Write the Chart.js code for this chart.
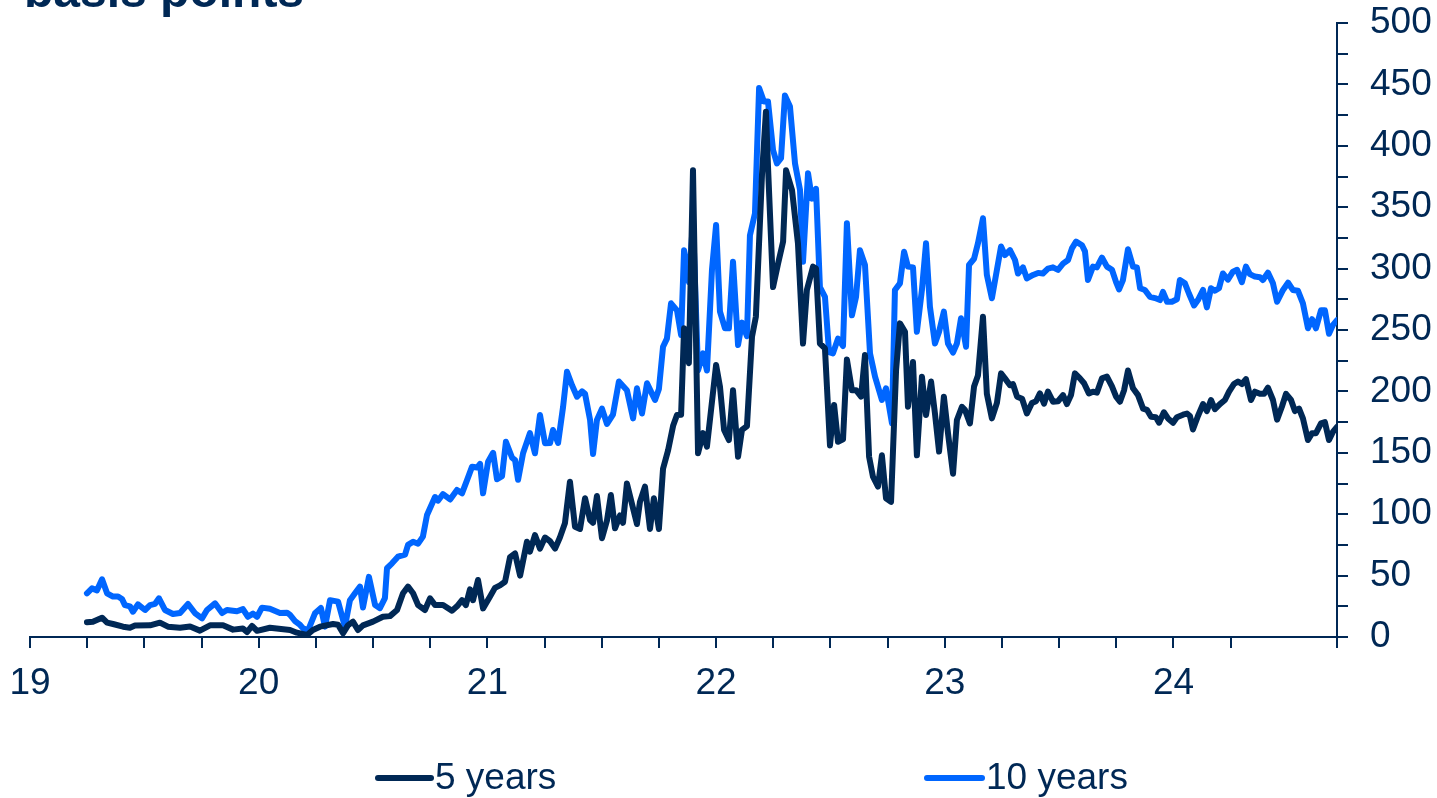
<!DOCTYPE html>
<html>
<head>
<meta charset="utf-8">
<script src="https://cdn.jsdelivr.net/npm/chart.js@4.4.1/dist/chart.umd.min.js"></script>
<style>
  html, body { margin: 0; padding: 0; background: #ffffff; overflow: hidden; }
  #wrap { position: relative; width: 1437px; height: 798px; }
</style>
</head>
<body>
<div id="wrap"><canvas id="c" width="1437" height="798"></canvas></div>
<script>
// Sovereign spread vs. Bund, weekly, in basis points (x = year, two-digit)
const seriesNames = ['5 years', '10 years'];
const yearTicks = [19, 20, 21, 22, 23, 24];
const spreadTicks = [0, 50, 100, 150, 200, 250, 300, 350, 400, 450, 500];

const dates5 = [
  19.249, 19.275, 19.315, 19.337, 19.363, 19.407, 19.437, 19.459, 19.525, 19.568,
  19.603, 19.656, 19.700, 19.743, 19.787, 19.844, 19.888, 19.931, 19.949, 19.971,
  19.993, 20.049, 20.137, 20.167, 20.211, 20.237, 20.268, 20.325, 20.347, 20.369,
  20.390, 20.412, 20.434, 20.456, 20.500, 20.543, 20.574, 20.605, 20.631, 20.653,
  20.675, 20.697, 20.727, 20.749, 20.771, 20.806, 20.845, 20.867, 20.889, 20.906,
  20.924, 20.937, 20.959, 20.981, 21.011, 21.033, 21.055, 21.077, 21.099, 21.121,
  21.143, 21.173, 21.186, 21.208, 21.230, 21.252, 21.274, 21.296, 21.317, 21.339,
  21.361, 21.383, 21.405, 21.427, 21.449, 21.462, 21.479, 21.501, 21.523, 21.540,
  21.558, 21.580, 21.593, 21.610, 21.654, 21.667, 21.689, 21.711, 21.728, 21.750,
  21.768, 21.790, 21.812, 21.829, 21.847, 21.860, 21.881, 21.899, 21.921, 21.943,
  21.960, 22.000, 22.017, 22.035, 22.056, 22.074, 22.096, 22.113, 22.135, 22.157,
  22.174, 22.201, 22.218, 22.227, 22.249, 22.271, 22.293, 22.306, 22.332, 22.358,
  22.380, 22.397, 22.424, 22.437, 22.454, 22.476, 22.498, 22.516, 22.533, 22.555,
  22.572, 22.594, 22.612, 22.634, 22.651, 22.669, 22.686, 22.708, 22.725, 22.743,
  22.765, 22.787, 22.804, 22.826, 22.839, 22.861, 22.878, 22.900, 22.918, 22.940,
  22.957, 22.975, 22.996, 23.014, 23.036, 23.053, 23.075, 23.088, 23.110, 23.128,
  23.145, 23.167, 23.184, 23.206, 23.228, 23.246, 23.263, 23.285, 23.298, 23.316,
  23.338, 23.359, 23.381, 23.399, 23.416, 23.434, 23.451, 23.473, 23.495, 23.517,
  23.534, 23.552, 23.569, 23.591, 23.609, 23.630, 23.648, 23.665, 23.687, 23.709,
  23.731, 23.749, 23.766, 23.784, 23.801, 23.823, 23.845, 23.867, 23.884, 23.902,
  23.923, 23.937, 23.958, 23.976, 23.998, 24.015, 24.042, 24.059, 24.072, 24.085,
  24.107, 24.129, 24.146, 24.164, 24.181, 24.203, 24.225, 24.243, 24.264, 24.282,
  24.299, 24.317, 24.339, 24.356, 24.378, 24.396, 24.413, 24.435, 24.453, 24.474,
  24.492, 24.514, 24.531, 24.549, 24.566, 24.588, 24.606, 24.623, 24.645, 24.662,
  24.680, 24.697, 24.715
];
const spread5 = [
  12, 12.5, 15.7, 11.7, 10.6, 8.4, 7.5, 9.3, 9.5, 11.7,
  8.4, 7.5, 8.5, 5.2, 9.5, 9.5, 6, 7, 4, 9,
  5, 7.5, 5.7, 3.5, 1.6, 5.7, 8.4, 10.6, 10, 3,
  9.5, 12.5, 5.7, 9.5, 12.5, 16.5, 17, 22, 35.6, 41,
  35.6, 26, 22, 31.5, 26, 26, 21.4, 25, 30, 26,
  38.8, 30, 46.4, 23.3, 32.8, 40, 42, 45, 65, 68,
  50, 77.6, 69.5, 83, 72, 81, 78, 72, 81, 92.6,
  126.5, 89.8, 88, 113, 95.3, 93, 114.8, 80.4, 95, 115.6,
  88.5, 99, 93, 125, 92, 110, 122.4, 88, 113, 88,
  137, 152, 172, 180.8, 181, 251.4, 223, 380, 149.6, 166,
  155, 221.5, 203.8, 168.6, 160.4, 201, 146.8, 168.6, 171.8, 244.5,
  260.8, 377.6, 427.8, 383, 285, 304, 322, 380, 364, 320.6,
  239, 282.6, 301.6, 300, 239, 235, 156, 189, 159, 161,
  226, 201, 201, 195.7, 229.6, 146.8, 130.5, 122.4, 148, 113,
  110, 217.4, 255.4, 248.6, 187.5, 224, 148, 212, 180.8, 208,
  182, 151, 195.7, 166, 133, 176.7, 187.5, 185, 174, 204,
  213, 260.8, 198, 178, 190.6, 214.7, 210.6, 205, 206, 195.7,
  194, 182, 190.6, 192, 198.4, 190, 199.8, 191.6, 192, 197,
  189.7, 197, 214.7, 210.6, 206.6, 198.4, 199.8, 199, 210.6, 212,
  204, 195.7, 191.6, 201, 217, 202.5, 197, 186, 185, 179.4,
  179, 174.5, 183, 178, 174.5, 179, 181, 182, 180, 169,
  180, 189.7, 184, 193, 185.5, 189.7, 193, 199.8, 206, 208,
  206, 210, 193, 199.8, 198, 198, 203, 193, 177, 187.5,
  198, 193, 184, 186, 178, 160.4, 166, 166, 174, 175,
  160.4, 167, 171
];

const dates10 = [
  19.249, 19.271, 19.293, 19.315, 19.337, 19.363, 19.385, 19.402, 19.415, 19.437,
  19.450, 19.472, 19.503, 19.525, 19.547, 19.564, 19.590, 19.625, 19.656, 19.691,
  19.721, 19.752, 19.774, 19.809, 19.840, 19.861, 19.905, 19.931, 19.953, 19.975,
  19.993, 20.014, 20.049, 20.093, 20.124, 20.137, 20.159, 20.181, 20.194, 20.216,
  20.246, 20.272, 20.290, 20.312, 20.347, 20.377, 20.399, 20.421, 20.443, 20.456,
  20.482, 20.509, 20.530, 20.552, 20.561, 20.583, 20.609, 20.640, 20.653, 20.675,
  20.697, 20.718, 20.736, 20.771, 20.784, 20.806, 20.837, 20.867, 20.889, 20.911,
  20.933, 20.955, 20.968, 20.981, 21.003, 21.025, 21.042, 21.064, 21.081, 21.108,
  21.121, 21.134, 21.156, 21.186, 21.208, 21.230, 21.252, 21.274, 21.287, 21.309,
  21.331, 21.348, 21.370, 21.392, 21.414, 21.427, 21.449, 21.462, 21.479, 21.501,
  21.523, 21.549, 21.575, 21.610, 21.637, 21.654, 21.676, 21.698, 21.720, 21.733,
  21.750, 21.768, 21.785, 21.803, 21.829, 21.847, 21.860, 21.881, 21.899, 21.921,
  21.943, 21.960, 21.982, 22.000, 22.017, 22.039, 22.056, 22.074, 22.096, 22.113,
  22.135, 22.148, 22.170, 22.188, 22.209, 22.227, 22.249, 22.266, 22.284, 22.301,
  22.323, 22.345, 22.367, 22.380, 22.402, 22.419, 22.437, 22.454, 22.476, 22.494,
  22.511, 22.533, 22.555, 22.572, 22.594, 22.612, 22.629, 22.651, 22.673, 22.695,
  22.725, 22.743, 22.769, 22.782, 22.804, 22.822, 22.839, 22.861, 22.878, 22.900,
  22.918, 22.935, 22.957, 22.975, 22.996, 23.014, 23.036, 23.053, 23.071, 23.093,
  23.106, 23.128, 23.145, 23.167, 23.184, 23.206, 23.228, 23.246, 23.263, 23.285,
  23.307, 23.320, 23.342, 23.359, 23.386, 23.408, 23.429, 23.451, 23.473, 23.495,
  23.517, 23.539, 23.556, 23.574, 23.600, 23.613, 23.626, 23.648, 23.665, 23.687,
  23.709, 23.731, 23.749, 23.762, 23.779, 23.801, 23.823, 23.840, 23.854, 23.875,
  23.897, 23.919, 23.941, 23.954, 23.972, 23.993, 24.015, 24.028, 24.050, 24.068,
  24.090, 24.107, 24.129, 24.146, 24.164, 24.181, 24.199, 24.216, 24.238, 24.260,
  24.278, 24.299, 24.317, 24.334, 24.356, 24.378, 24.391, 24.413, 24.435, 24.453,
  24.479, 24.501, 24.522, 24.544, 24.566, 24.588, 24.606, 24.623, 24.645, 24.662,
  24.680, 24.697, 24.715
];
const spread10 = [
  35.6, 39.6, 38, 47, 35.6, 32.9, 33, 31, 26, 25,
  20.6, 26.6, 22, 26, 27, 31.5, 22, 18.7, 19.5, 26.9,
  19.5, 15.2, 22, 27.4, 19.5, 22, 21, 22.7, 16.5, 19,
  16.5, 23.9, 23, 19.5, 19.8, 18, 13, 9.8, 7, 5.4,
  19.3, 23.6, 8.4, 30, 28.8, 8.4, 30, 35.6, 41, 24,
  49, 26, 23.5, 31.7, 56, 60, 65.4, 67, 75, 77.6,
  76, 81.7, 99.3, 114, 111, 116.4, 112, 119.7, 117, 127.8,
  138.7, 138, 141, 117, 142.8, 150, 128.4, 131, 159, 146,
  144, 128, 149.6, 166, 149.6, 180.8, 157.7, 158, 168.6, 158,
  187.5, 216, 205, 195.7, 200, 198, 176.7, 149, 176.7, 186,
  173.5, 181, 208, 201, 178, 202.5, 182, 206.6, 198, 193,
  202, 236.4, 243, 271.7, 266, 246, 315, 289, 338, 217,
  231, 217, 299, 335.5, 265, 251.4, 251.4, 305.6, 237.8, 256,
  245, 327, 345, 447, 436, 436, 396.6, 385.7, 390, 441,
  432, 385.7, 364, 305.6, 377.6, 357, 365, 285, 277, 232,
  231, 243, 237, 337, 262, 277, 315, 303, 231, 212,
  193, 202.5, 174, 282.6, 288, 313.8, 301.6, 301, 248.6, 282.6,
  320.6, 269, 239, 248.6, 265, 239, 231.6, 239, 259.5, 236.4,
  303, 308, 320.6, 341, 294.8, 275.8, 299, 318, 311, 315,
  307, 296, 301, 292, 294.8, 296.5, 296, 300, 301, 299,
  304, 307, 316.5, 322, 319, 314, 290.7, 301.6, 301, 309,
  301.6, 299, 289, 283, 290.7, 315.7, 301.6, 301, 284, 282.6,
  277, 276, 274.4, 281, 273, 273, 275, 290.7, 288, 279.5,
  270, 274.4, 282.6, 268.4, 284, 282, 284, 296, 291, 297.5,
  299, 289, 301.6, 295.5, 293.5, 293, 290.7, 296.7, 288, 273,
  282.6, 288.5, 282.6, 282, 271.7, 251.4, 258.8, 251.4, 266, 266,
  247, 254, 258
];

const NAVY = '#002855';
const BLUE = '#0066ff';
const FONT = "'Liberation Sans', Arial, Helvetica, sans-serif";

const toPoints = (xs, ys) => xs.map((x, i) => ({ x: x, y: ys[i] }));
const isWhole = v => Math.abs(v - Math.round(v)) < 1e-6;

// Unit caption in the top-left corner (partly above the canvas edge)
const captionPlugin = {
  id: 'caption',
  afterDraw(chart) {
    const ctx = chart.ctx;
    ctx.save();
    ctx.fillStyle = NAVY;
    ctx.font = 'bold 48px ' + FONT;
    ctx.textBaseline = 'alphabetic';
    ctx.textAlign = 'left';
    ctx.fillText('basis points', 24, 7);
    ctx.restore();
  }
};

// Legend row below the x axis: a short line sample followed by the series name
const legendRowPlugin = {
  id: 'legendRow',
  afterDraw(chart) {
    const ctx = chart.ctx;
    const slots = [{ x0: 378, x1: 431, tx: 435 }, { x0: 927, x1: 982, tx: 986 }];
    const y = 778;
    ctx.save();
    chart.data.datasets.forEach((ds, i) => {
      const s = slots[i];
      ctx.strokeStyle = ds.borderColor;
      ctx.lineWidth = 6;
      ctx.lineCap = 'round';
      ctx.beginPath();
      ctx.moveTo(s.x0, y);
      ctx.lineTo(s.x1, y);
      ctx.stroke();
      ctx.fillStyle = NAVY;
      ctx.font = '37px ' + FONT;
      ctx.textBaseline = 'middle';
      ctx.textAlign = 'left';
      ctx.fillText(ds.label, s.tx, y + 1);
    });
    ctx.restore();
  }
};

const noEdgePadding = scale => {
  scale.paddingTop = 0;
  scale.paddingBottom = 0;
  scale.paddingLeft = 0;
  scale.paddingRight = 0;
};

const ctx = document.getElementById('c').getContext('2d');
new Chart(ctx, {
  type: 'line',
  data: {
    datasets: [
      {
        label: seriesNames[0],
        data: toPoints(dates5, spread5),
        borderColor: NAVY,
        borderWidth: 6,
        pointRadius: 0,
        tension: 0,
        borderJoinStyle: 'round',
        borderCapStyle: 'round',
        fill: false
      },
      {
        label: seriesNames[1],
        data: toPoints(dates10, spread10),
        borderColor: BLUE,
        borderWidth: 6,
        pointRadius: 0,
        tension: 0,
        borderJoinStyle: 'round',
        borderCapStyle: 'round',
        fill: false
      }
    ]
  },
  options: {
    responsive: false,
    animation: false,
    devicePixelRatio: 1,
    layout: { padding: { left: 30, top: 23, right: 0, bottom: 0 } },
    plugins: {
      legend: { display: false },
      tooltip: { enabled: false },
      title: { display: false }
    },
    scales: {
      x: {
        type: 'linear',
        min: 19,
        max: 24.715,
        border: { display: true, color: NAVY, width: 2 },
        grid: { drawOnChartArea: false, drawTicks: true, tickLength: 11, color: NAVY, lineWidth: 2 },
        ticks: {
          stepSize: 0.25,
          autoSkip: false,
          maxRotation: 0,
          minRotation: 0,
          padding: 14,
          color: NAVY,
          font: { family: FONT, size: 37 },
          callback: v => (isWhole(v) && yearTicks.includes(Math.round(v))) ? String(Math.round(v)) : ''
        },
        afterFit(scale) { scale.height = 161; noEdgePadding(scale); }
      },
      y: {
        position: 'right',
        min: 0,
        max: 500,
        border: { display: true, color: NAVY, width: 2 },
        grid: { drawOnChartArea: false, drawTicks: true, tickLength: 11, color: NAVY, lineWidth: 2 },
        ticks: {
          stepSize: 25,
          autoSkip: false,
          padding: 22,
          color: NAVY,
          font: { family: FONT, size: 37 },
          callback: v => spreadTicks.includes(v) ? String(v) : ''
        },
        afterFit(scale) { scale.width = 100; noEdgePadding(scale); }
      }
    }
  },
  plugins: [captionPlugin, legendRowPlugin]
});
</script>
</body>
</html>
